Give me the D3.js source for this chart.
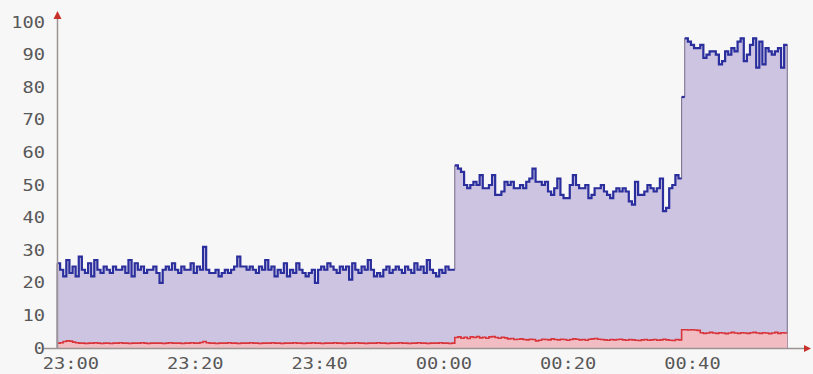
<!DOCTYPE html>
<html><head><meta charset="utf-8">
<script src="https://cdn.jsdelivr.net/npm/d3@7"></script>
<style>html,body{margin:0;padding:0;background:#f8f7f7;}svg{display:block;}</style>
</head><body><svg id="c" width="813" height="374"></svg>
<script>
// ---- data ----
const startTime = [2024, 0, 1, 22, 57, 50];   // first sample
const endTime = [2024, 0, 2, 0, 58, 40];      // end of x axis
const stepSeconds = 30;                        // sample interval
const yTicks = [0, 10, 20, 30, 40, 50, 60, 70, 80, 90, 100];
const xTickMinutes = 20;

const blueValues = [
  26,24,22,27,23,25,22,28,24,23,
  26,22,27,24,23,25,24,23,25,24,
  24,25,23,27,22,26,24,25,23,24,
  24,25,23,20,24,25,24,26,24,23,
  25,24,24,26,23,25,24,31,24,23,
  23,24,22,23,24,23,24,25,28,25,
  25,24,25,24,23,25,24,27,24,25,
  22,24,23,26,22,24,23,26,24,23,
  22,23,24,20,24,25,24,26,25,24,
  23,25,24,25,21,26,24,23,25,24,
  27,24,22,23,22,24,25,23,24,25,
  24,23,25,24,23,26,24,25,23,27,
  24,23,22,24,23,25,24,24,
  56,55,54,50,49,50,51,50,
  53,49,49,50,53,47,47,48,
  51,50,51,49,49,50,49,51,
  52,55,51,51,50,51,48,47,
  49,52,47,46,46,50,53,50,
  49,49,50,46,47,49,49,50,
  48,47,46,48,49,48,49,48,
  45,44,51,47,47,48,50,49,
  48,49,52,42,43,49,50,53,52,
  77,
  95,94,93,92,92,93,89,90,
  91,91,90,87,88,91,90,92,
  91,94,95,88,90,93,95,86,
  94,87,92,91,90,91,92,86,
  93,93
];

const redValues = [
  1.5,1.6,2.0,2.2,2.1,1.8,1.6,1.5,1.5,1.4,1.5,1.5,1.6,1.5,1.4,1.5,
  1.5,1.4,1.5,1.5,1.6,1.5,1.5,1.4,1.5,1.5,1.5,1.6,1.5,1.4,1.5,1.5,
  1.5,1.5,1.4,1.5,1.6,1.5,1.5,1.5,1.4,1.5,1.5,1.6,1.5,1.5,1.7,2.0,
  1.6,1.5,1.5,1.4,1.5,1.5,1.5,1.6,1.5,1.5,1.4,1.5,1.5,1.5,1.6,1.5,
  1.5,1.4,1.5,1.5,1.5,1.6,1.5,1.5,1.4,1.5,1.5,1.5,1.6,1.5,1.5,1.4,
  1.5,1.5,1.6,1.5,1.5,1.4,1.5,1.5,1.5,1.6,1.5,1.5,1.4,1.5,1.5,1.5,
  1.6,1.5,1.5,1.4,1.5,1.5,1.5,1.6,1.5,1.5,1.4,1.5,1.5,1.5,1.6,1.5,
  1.5,1.4,1.5,1.5,1.6,1.5,1.5,1.4,1.5,1.5,1.5,1.6,1.5,1.5,1.4,1.5,
  3.2,3.4,3.0,3.3,2.9,3.4,3.2,3.5,3.1,3.3,3.0,3.4,3.5,3.2,3.0,3.3,
  3.1,2.8,2.9,2.6,2.7,2.8,2.6,2.5,2.7,2.6,2.2,2.4,2.7,2.6,2.5,2.8,
  2.6,2.5,2.7,2.6,2.4,2.6,2.8,2.7,2.5,2.6,2.4,2.7,2.8,2.9,2.7,2.6,
  2.5,2.4,2.6,2.5,2.6,2.7,2.5,2.4,2.6,2.5,2.4,2.3,2.5,2.6,2.4,2.5,
  2.6,2.4,2.5,2.7,2.5,2.4,2.3,2.6,2.5,
  5.6,5.6,5.5,5.6,5.5,5.4,
  4.7,4.5,4.6,4.8,4.6,4.5,4.7,4.6,4.4,4.6,4.8,4.6,4.5,4.7,4.6,4.5,
  4.7,4.8,4.6,4.5,4.7,4.6,4.4,4.6,4.8,4.5,4.7,4.6,4.6
];

// ---- build ----
const t0 = new Date(...startTime);
const tEnd = new Date(...endTime);
const timeAt = i => new Date(t0.getTime() + i * stepSeconds * 1000);
const blue = blueValues.map((v, i) => ({t: timeAt(i), v}));
const red = redValues.map((v, i) => ({t: timeAt(i), v}));

const svg = d3.select("#c");
svg.append("rect").attr("width", 813).attr("height", 374).attr("fill", "#f8f7f7");

const x = d3.scaleTime().domain([t0, tEnd]).range([57, 808]);
const y = d3.scaleLinear().domain([0, 100]).range([348, 22]);

const area = d3.area().x(d => x(d.t)).y0(y(0)).y1(d => y(d.v)).curve(d3.curveStepAfter);
const line = d3.line().x(d => x(d.t)).y(d => y(d.v)).curve(d3.curveStepAfter);

// blue area with thin edge
svg.append("path").datum(blue).attr("d", area)
  .attr("fill", "#cdc4e2").attr("stroke", "#756a88").attr("stroke-width", 1);

// red area
svg.append("path").datum(red).attr("d", area).attr("fill", "#f1bcc2");

// blue line split at big jumps so the long verticals stay thin/gray
const segs = [];
let cur = [blue[0]];
for (let i = 1; i < blue.length; i++) {
  if (Math.abs(blue[i].v - blue[i - 1].v) > 15) {
    cur.push({t: blue[i].t, v: blue[i - 1].v});
    segs.push(cur);
    cur = [blue[i]];
  } else cur.push(blue[i]);
}
segs.push(cur);
svg.selectAll("path.bl").data(segs).join("path").attr("class", "bl")
  .attr("d", line).attr("fill", "none").attr("stroke", "#2b2f9e")
  .attr("stroke-width", 2.2).attr("stroke-linejoin", "miter");

svg.append("path").datum(red).attr("d", line).attr("fill", "none")
  .attr("stroke", "#d8343a").attr("stroke-width", 1.6);

// axes
const fontFam = "'DejaVu Sans Mono', monospace";
const sx = 1.17;
const xAxis = d3.axisBottom(x)
  .ticks(d3.timeMinute.every(xTickMinutes))
  .tickFormat(d3.timeFormat("%H:%M")).tickSize(0).tickPadding(10);
const gx = svg.append("g").attr("transform", `translate(0,${y(0)})`).call(xAxis);
gx.select(".domain").remove();
gx.selectAll("text").attr("font-family", fontFam).attr("font-size", 16)
  .attr("fill", "#585858").attr("transform", `scale(${sx},1)`);

const yAxis = d3.axisLeft(y).tickValues(yTicks).tickSize(0).tickPadding(12);
const gy = svg.append("g").attr("transform", "translate(57,0)").call(yAxis);
gy.select(".domain").remove();
gy.selectAll("text").attr("font-family", fontFam).attr("font-size", 16)
  .attr("fill", "#585858").attr("x", -12 / sx).attr("transform", `scale(${sx},1)`);

// axis lines + arrows
svg.append("line").attr("x1", 44).attr("x2", 806).attr("y1", 348.5).attr("y2", 348.5)
  .attr("stroke", "#9c9494").attr("stroke-width", 1.5);
svg.append("line").attr("x1", 57.5).attr("x2", 57.5).attr("y1", 349).attr("y2", 16)
  .attr("stroke", "#9c9494").attr("stroke-width", 1.5);
svg.append("path").attr("d", "M57.5,11 L53.5,19 L61.5,19 Z").attr("fill", "#c8302c");
svg.append("path").attr("d", "M811,348.5 L804,345 L804,352 Z").attr("fill", "#c8302c");
</script>
</body></html>
